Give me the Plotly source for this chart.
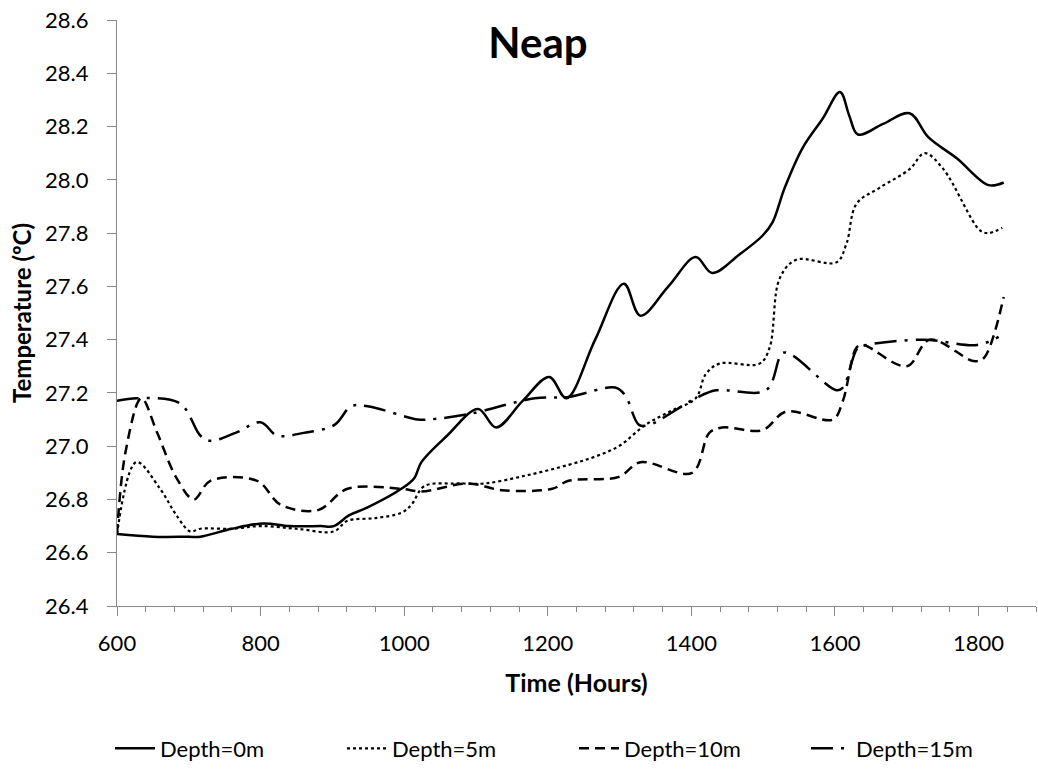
import plotly.graph_objects as go

# ---- data ----
t0 = [600, 650, 700, 716, 760, 804, 840, 884, 902, 923, 949, 996, 1014, 1024, 1060, 1103, 1128,
      1165, 1202, 1226, 1266, 1306, 1329, 1368, 1406, 1429, 1467, 1499, 1513, 1530, 1555, 1583,
      1607, 1620, 1632, 1667, 1704, 1730, 1770, 1814, 1835]
v0 = [26.67, 26.66, 26.66, 26.66, 26.69, 26.71, 26.70, 26.70, 26.70, 26.74, 26.77, 26.84, 26.88, 26.94,
      27.04, 27.14, 27.07, 27.17, 27.26, 27.18, 27.40, 27.61, 27.49, 27.60, 27.71, 27.65, 27.72, 27.79,
      27.84, 27.97, 28.12, 28.23, 28.33, 28.24, 28.17, 28.21, 28.25, 28.16, 28.08, 27.98, 27.99]

t5 = [600, 627, 660, 683, 702, 716, 760, 800, 850, 902, 921, 960, 996, 1010, 1028, 1070, 1112,
      1170, 1229, 1265, 1299, 1336, 1370, 1406, 1420, 1439, 1495, 1509, 1523, 1546, 1602, 1616,
      1630, 1662, 1704, 1725, 1751, 1802, 1814, 1833]
v5 = [26.67, 26.94, 26.84, 26.74, 26.68, 26.69, 26.69, 26.70, 26.69, 26.68, 26.72, 26.73, 26.75, 26.78,
      26.85, 26.86, 26.86, 26.89, 26.93, 26.96, 27.00, 27.08, 27.13, 27.18, 27.27, 27.31, 27.31, 27.37,
      27.63, 27.70, 27.69, 27.76, 27.91, 27.97, 28.04, 28.10, 28.04, 27.81, 27.80, 27.82]

t10 = [600, 612, 634, 656, 683, 707, 730, 795, 828, 880, 921, 996, 1024, 1089, 1136, 1206, 1229,
       1299, 1329, 1401, 1425, 1443, 1499, 1532, 1597, 1611, 1630, 1639, 1700, 1732, 1793, 1807, 1835]
v10 = [26.67, 26.98, 27.18, 27.05, 26.88, 26.80, 26.87, 26.87, 26.78, 26.76, 26.84, 26.84, 26.83, 26.86,
       26.835, 26.84, 26.87, 26.885, 26.94, 26.90, 27.05, 27.07, 27.06, 27.13, 27.10, 27.17, 27.37, 27.38,
       27.30, 27.40, 27.32, 27.33, 27.56]

t15 = [600, 628, 688, 716, 730, 765, 800, 823, 860, 903, 926, 949, 1019, 1033, 1089, 1182, 1229,
       1294, 1308, 1327, 1341, 1406, 1434, 1504, 1527, 1541, 1602, 1611, 1632, 1644, 1723, 1798, 1828]
v15 = [27.17, 27.18, 27.16, 27.04, 27.02, 27.05, 27.09, 27.04, 27.05, 27.08, 27.15, 27.15, 27.10, 27.10,
       27.12, 27.18, 27.185, 27.22, 27.19, 27.08, 27.08, 27.18, 27.21, 27.21, 27.35, 27.34, 27.21, 27.22,
       27.37, 27.38, 27.40, 27.38, 27.41]

y_ticks = [26.4, 26.6, 26.8, 27.0, 27.2, 27.4, 27.6, 27.8, 28.0, 28.2, 28.4, 28.6]
y_tick_text = ["26.4", "26.6", "26.8", "27.0", "27.2", "27.4", "27.6", "27.8", "28.0", "28.2", "28.4", "28.6"]

names = ["Depth=0m", "Depth=5m", "Depth=10m", "Depth=15m"]
dashes = ["solid", "dot", "10px,6px", "22px,8px,3px,8px"]
widths = [2.5, 2.2, 2.5, 2.5]

FONT = "Lato, 'Open Sans', sans-serif"
AX = "#898989"

W, H = 1038, 771

fig = go.Figure()
for t, v, n, d, w in zip([t0, t5, t10, t15], [v0, v5, v10, v15], names, dashes, widths):
    fig.add_trace(go.Scatter(x=t, y=v, name=n, mode="lines",
                             line=dict(color="black", width=w, dash=d, shape="spline", smoothing=1.0)))

fig.update_layout(
    width=W, height=H,
    margin=dict(l=117, r=2, t=20, b=163),
    paper_bgcolor="white", plot_bgcolor="white",
    font=dict(family=FONT, size=22, color="black"),
    title=dict(text="<b>Neap</b>", x=538/W, xanchor="center", y=1-43/H, yanchor="middle",
               font=dict(family=FONT, size=42, color="black")),
    showlegend=True,
    legend=dict(orientation="h", x=-0.001, xanchor="left", y=(608-751)/588, yanchor="middle",
                itemwidth=40, entrywidth=177, entrywidthmode="pixels", font=dict(size=22),
                bgcolor="rgba(0,0,0,0)"),
    xaxis=dict(range=[600, 1880], dtick=200, tick0=600, showgrid=False, zeroline=False, automargin=False,
               showline=True, linecolor=AX, linewidth=1.3, ticklabeloverflow="allow",
               ticks="outside", ticklen=9, tickcolor=AX, tickwidth=1.3, ticklabelstandoff=8,
               minor=dict(dtick=40, ticks="outside", ticklen=5, tickcolor=AX, tickwidth=1.3, showgrid=False),
               tickfont=dict(size=22), title=dict(text="<b>Time (Hours)</b>", font=dict(size=25), standoff=19)),
    yaxis=dict(range=[26.4, 28.6], tickmode="array", tickvals=y_ticks, ticktext=y_tick_text,
               showgrid=False, zeroline=False, automargin=False, ticklabeloverflow="allow",
               showline=True, linecolor=AX, linewidth=1.3,
               ticks="outside", ticklen=9, tickcolor=AX, tickwidth=1.3, ticklabelstandoff=14,
               tickfont=dict(size=22), title=dict(text="<b>Temperature (ºC)</b>", font=dict(size=24), standoff=6)),
)

# remove the browser's default 8px page margin so the figure fills the window exactly
fig.write_html("out.html", config={"displayModeBar": False},
               post_script="document.body.style.margin='0px';document.body.style.overflow='hidden';")
